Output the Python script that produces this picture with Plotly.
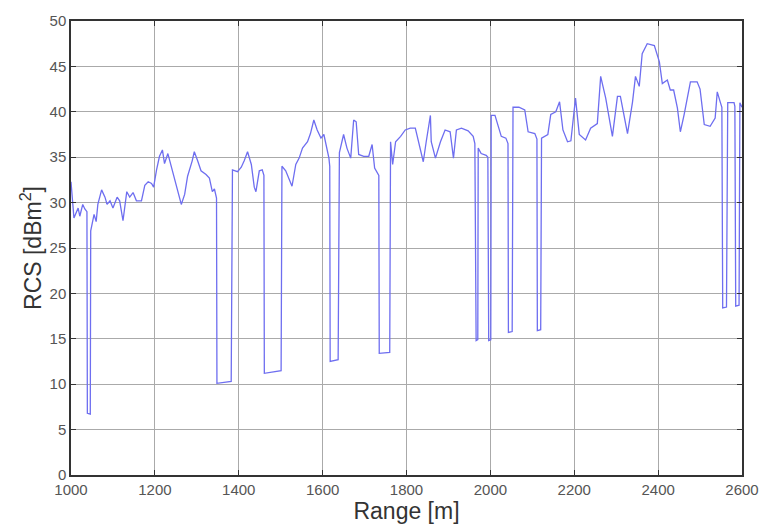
import plotly.graph_objects as go

# Range samples [m]
range_m = [
    1000, 1004, 1007, 1017, 1021, 1028, 1033, 1038, 1039, 1046, 1047, 1055, 1060, 1064,
    1073, 1081, 1086, 1093, 1100, 1110, 1116, 1124, 1133, 1140, 1148, 1156, 1168,
    1176, 1184, 1192, 1197, 1204, 1211, 1218, 1223, 1231, 1240, 1247, 1254, 1263,
    1271, 1278, 1289, 1294, 1302, 1310, 1322, 1330, 1337, 1342, 1347, 1348, 1382,
    1385, 1397, 1406, 1413, 1421, 1430, 1437, 1441, 1449, 1456, 1460, 1461, 1501,
    1503, 1512, 1527, 1536, 1544, 1552, 1564, 1571, 1579, 1587, 1596, 1603, 1615,
    1617, 1618, 1637, 1640, 1650, 1658, 1667, 1674, 1680, 1686, 1698, 1710, 1718,
    1724, 1731, 1734, 1735, 1760, 1762, 1767, 1774, 1786, 1797, 1809, 1821, 1828,
    1840, 1847, 1857, 1859, 1869, 1881, 1892, 1904, 1912, 1919, 1931, 1947, 1959,
    1963, 1966, 1970, 1971, 1978, 1990, 1994, 1996, 2001, 2002, 2011, 2018, 2026,
    2037, 2042, 2043, 2052, 2054, 2068, 2082, 2090, 2106, 2111, 2112, 2120, 2122,
    2137, 2144, 2156, 2165, 2173, 2184, 2192, 2203, 2212, 2227, 2239, 2255, 2263,
    2275, 2291, 2303, 2310, 2327, 2339, 2346, 2355, 2362, 2374, 2391, 2403, 2410,
    2422, 2429, 2437, 2446, 2453, 2462, 2477, 2493, 2500, 2510, 2524, 2536, 2541,
    2548, 2552, 2554, 2563, 2566, 2575, 2581, 2583, 2585, 2593, 2595, 2600,
]

# Radar cross section [dBm^2]
rcs_dbsm = [
    32.3, 29.8, 28.3, 29.4, 28.5, 29.8, 29.3, 29.0, 6.8, 6.7, 26.9, 28.7, 27.9, 29.8,
    31.4, 30.6, 29.8, 30.2, 29.4, 30.6, 30.2, 28.0, 31.2, 30.6, 31.1, 30.2, 30.2,
    31.9, 32.3, 32.1, 31.7, 33.6, 35.1, 35.8, 34.3, 35.4, 33.9, 32.5, 31.4, 29.8,
    30.9, 32.9, 34.6, 35.6, 34.6, 33.5, 33.1, 32.7, 31.2, 31.5, 30.5, 10.1, 10.3,
    33.6, 33.4, 33.9, 34.6, 35.6, 34.2, 31.7, 31.2, 33.5, 33.6, 33.0, 11.2, 11.5,
    34.0, 33.5, 31.8, 34.2, 34.9, 36.0, 36.7, 37.6, 39.1, 38.0, 37.1, 37.5, 34.9,
    34.0, 12.5, 12.7, 35.5, 37.5, 36.0, 34.9, 39.1, 38.9, 35.3, 35.1, 35.1, 36.4,
    33.8, 33.3, 33.0, 13.4, 13.5, 36.7, 34.2, 36.7, 37.3, 38.0, 38.2, 38.2, 36.9,
    34.5, 36.7, 39.6, 36.7, 34.9, 36.7, 38.0, 37.8, 34.9, 38.0, 38.2, 37.9, 37.3,
    36.5, 14.8, 14.9, 36.0, 35.4, 35.2, 35.0, 14.8, 14.9, 39.6, 39.6, 38.6, 37.3,
    37.1, 36.5, 15.7, 15.8, 40.5, 40.5, 40.2, 37.8, 37.6, 37.0, 15.9, 16.0, 37.1,
    37.5, 39.7, 40.0, 41.1, 38.0, 36.7, 36.8, 41.5, 37.5, 36.9, 38.2, 38.7, 43.9,
    41.5, 37.3, 41.7, 41.7, 37.6, 41.1, 43.9, 42.8, 46.4, 47.5, 47.3, 45.5, 43.1,
    43.5, 42.4, 42.4, 40.4, 37.8, 39.7, 43.3, 43.3, 42.5, 38.6, 38.4, 39.3, 42.2,
    41.1, 40.5, 18.4, 18.5, 41.0, 41.0, 41.0, 40.6, 18.6, 18.7, 41.0, 40.5,
]

x_ticks = [1000, 1200, 1400, 1600, 1800, 2000, 2200, 2400, 2600]
y_ticks = [0, 5, 10, 15, 20, 25, 30, 35, 40, 45, 50]

FONT = "Liberation Sans, Arial"

fig = go.Figure()
fig.add_trace(go.Scatter(
    x=range_m, y=rcs_dbsm, mode="lines",
    line=dict(color="rgb(110,110,240)", width=1.3),
    showlegend=False,
))

axis_common = dict(
    showline=True, linecolor="#333333", linewidth=1.5, mirror="ticks",
    ticks="inside", ticklen=5, tickcolor="#333333",
    showgrid=True, gridcolor="#aaaaaa", gridwidth=1,
    zeroline=False,
    tickfont=dict(family=FONT, size=15, color="#555555"),
)

fig.update_xaxes(
    range=[1000, 2600], tickvals=x_ticks,
    title=dict(text="Range [m]", font=dict(family=FONT, size=23, color="#333333"), standoff=2),
    **axis_common,
)
fig.update_yaxes(
    range=[0, 50], tickvals=y_ticks,
    title=dict(text="RCS [dBm<sup>2</sup>]", font=dict(family=FONT, size=23, color="#333333"), standoff=2),
    **axis_common,
)

fig.update_layout(
    width=771, height=532,
    margin=dict(l=71, r=26, t=19, b=57),
    paper_bgcolor="white", plot_bgcolor="white",
)

fig.write_html("out.html")
